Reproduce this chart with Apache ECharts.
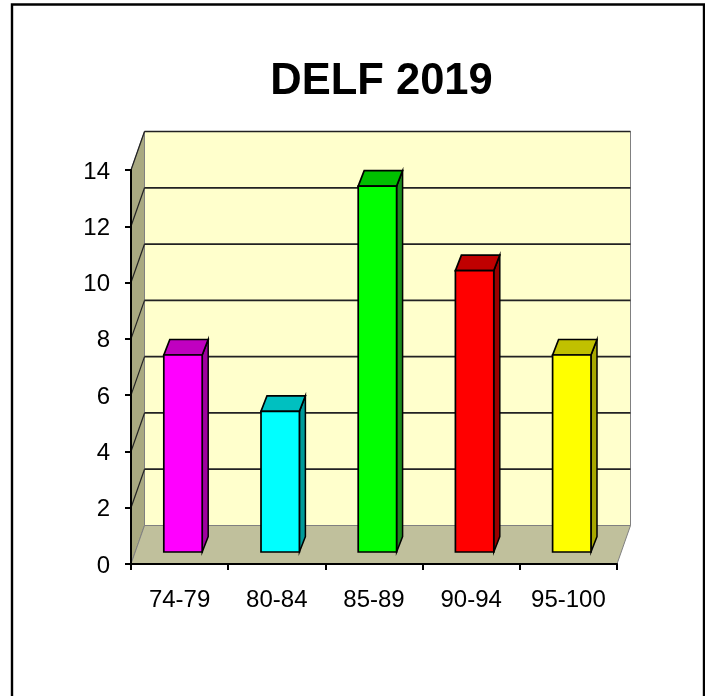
<!DOCTYPE html>
<html>

<head>
    <meta charset="utf-8">
    <title>DELF 2019</title>
    <script src="https://cdn.jsdelivr.net/npm/echarts@6/dist/echarts.min.js"></script>
    <style>
        html, body { margin: 0; padding: 0; background: #fff; }
    </style>
</head>

<body>
    <div id="main" style="width: 705px;height:696px;"></div>
    <script type="text/javascript">
        // data
        var categories = ['74-79', '80-84', '85-89', '90-94', '95-100'];
        var counts = [7, 5, 13, 10, 7];
        var yTicks = [2, 4, 6, 8, 10, 12, 14];

        // face colours of each bar, front / top / side
        var frontColors = ['#ff00ff', '#00ffff', '#00ff00', '#ff0000', '#ffff00'];
        var topColors = ['#c000c0', '#00c0c0', '#00c000', '#c00000', '#c0c000'];
        var sideColors = ['#a000a0', '#009a9a', '#1a8c1a', '#990000', '#a8a800'];

        // pixel offsets of the fake 3d depth
        var WALL_DX = 13.5, WALL_DY = 38.5;
        var BAR_DX = 3.4, BAR_DY = 12;
        var TOP_DX = 6, TOP_DY = 15.5;
        var BAR_RATIO = 0.395;

        var myChart = echarts.init(document.getElementById('main'));

        function poly(points, fill, stroke, width) {
            return {
                type: 'polygon',
                shape: { points: points },
                style: { fill: fill, stroke: stroke, lineWidth: width }
            };
        }

        function line(a, b, stroke, width) {
            return {
                type: 'line',
                shape: { x1: a[0], y1: a[1], x2: b[0], y2: b[1] },
                style: { stroke: stroke, lineWidth: width }
            };
        }

        function renderWalls(params, api) {
            var band = api.size([1, 0])[0];
            var x0 = api.coord([0, 0])[0] - band / 2;
            var x1 = api.coord([categories.length - 1, 0])[0] + band / 2;
            var y0 = api.coord([0, 0])[1];
            var yMax = api.coord([0, yTicks[yTicks.length - 1]])[1];
            return {
                type: 'group',
                children: [
                    // back wall
                    poly([[x0 + WALL_DX, yMax - WALL_DY], [x1 + WALL_DX, yMax - WALL_DY],
                        [x1 + WALL_DX, y0 - WALL_DY], [x0 + WALL_DX, y0 - WALL_DY]], '#ffffcc', '#808080', 1),
                    // side wall
                    poly([[x0, yMax], [x0 + WALL_DX, yMax - WALL_DY],
                        [x0 + WALL_DX, y0 - WALL_DY], [x0, y0]], '#a9a981', '#808080', 1),
                    // floor
                    poly([[x0, y0], [x0 + WALL_DX, y0 - WALL_DY],
                        [x1 + WALL_DX, y0 - WALL_DY], [x1, y0]], '#c0c09c', '#808080', 1)
                ]
            };
        }

        function renderGridLine(params, api) {
            var band = api.size([1, 0])[0];
            var p = api.coord([0, api.value(1)]);
            var x0 = p[0] - band / 2;
            var x1 = api.coord([categories.length - 1, 0])[0] + band / 2;
            var back = [x0 + WALL_DX, p[1] - WALL_DY];
            return {
                type: 'group',
                children: [
                    line([x0, p[1]], back, '#222222', 1.2),
                    line(back, [x1 + WALL_DX, back[1]], '#222222', 1.7)
                ]
            };
        }

        function renderBar(params, api) {
            var i = api.value(0);
            var band = api.size([1, 0])[0];
            var w = band * BAR_RATIO;
            var base = api.coord([i, 0]);
            var top = api.coord([i, api.value(1)]);
            var l = base[0] + BAR_DX - w / 2;
            var r = l + w;
            var b = base[1] - BAR_DY;
            var t = top[1] - BAR_DY;
            return {
                type: 'group',
                children: [
                    poly([[r, t], [r + TOP_DX, t - TOP_DY], [r + TOP_DX, b - TOP_DY], [r, b]], sideColors[i], '#000', 1.5),
                    poly([[l, t], [l + TOP_DX, t - TOP_DY], [r + TOP_DX, t - TOP_DY], [r, t]], topColors[i], '#000', 1.7),
                    poly([[l, t], [r, t], [r, b], [l, b]], frontColors[i], '#000', 1.7)
                ]
            };
        }

        myChart.setOption({
            animation: false,
            title: {
                text: 'DELF 2019',
                left: 376.5,
                top: 55,
                textAlign: 'center',
                textStyle: {
                    fontFamily: 'Liberation Sans',
                    fontSize: 43.5,
                    fontWeight: 'bold',
                    color: '#000'
                }
            },
            grid: { left: 131, right: 88, top: 170, bottom: 132 },
            xAxis: {
                type: 'category',
                data: categories,
                z: 5,
                axisLine: { lineStyle: { color: '#000', width: 2 } },
                axisTick: { show: true, alignWithLabel: false, length: 6, lineStyle: { color: '#000', width: 2 } },
                axisLabel: { margin: 24, fontFamily: 'Liberation Sans', fontSize: 24, color: '#000' }
            },
            yAxis: {
                type: 'value',
                min: 0,
                max: 14,
                interval: 2,
                z: 5,
                splitLine: { show: false },
                axisLine: { show: true, lineStyle: { color: '#000', width: 2 } },
                axisTick: { show: true, length: 6, lineStyle: { color: '#000', width: 2 } },
                // top aligned with a small line height drops the digits about 2px under the tick
                axisLabel: { margin: 21, verticalAlign: 'top', lineHeight: 4, fontFamily: 'Liberation Sans', fontSize: 24, color: '#000' }
            },
            series: [
                { type: 'custom', z: 1, clip: false, silent: true, encode: { x: 0, y: 1 }, data: [[0, 0]], renderItem: renderWalls },
                { type: 'custom', z: 2, clip: false, silent: true, encode: { x: 0, y: 1 },
                    data: yTicks.map(function (t) { return [0, t]; }), renderItem: renderGridLine },
                { type: 'custom', z: 3, clip: false, silent: true, encode: { x: 0, y: 1 },
                    data: counts.map(function (c, i) { return [i, c]; }), renderItem: renderBar }
            ],
            graphic: [{
                // frame of the chart area, the bottom is cut off by the picture
                type: 'polyline',
                shape: { points: [[12, 696], [12, 4.5], [704, 4.5], [704, 696]] },
                style: { fill: 'none', stroke: '#000', lineWidth: 2.4 }
            }]
        });
    </script>
</body>

</html>
